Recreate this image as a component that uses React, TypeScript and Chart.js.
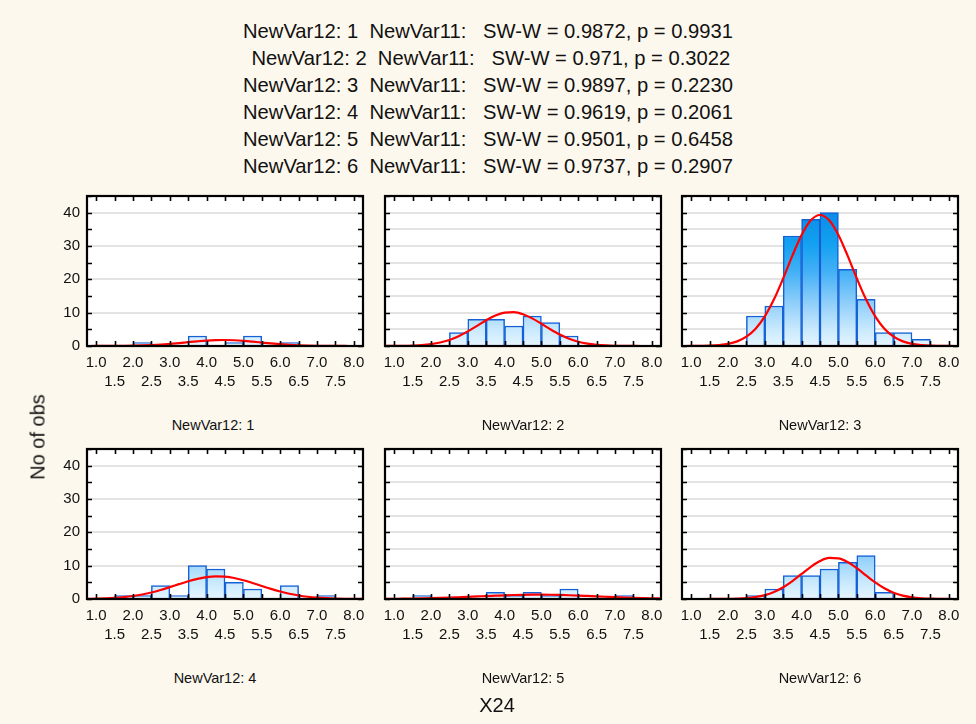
import React, { useEffect, useRef } from 'react';
import { Chart, registerables } from 'chart.js';

Chart.register(...registerables);

const FONT = 'Arial, "Liberation Sans", sans-serif';

// Histogram bins (width 0.5, from 1.0 to 8.0), given by their centres
const binCenters = [1.25, 1.75, 2.25, 2.75, 3.25, 3.75, 4.25, 4.75, 5.25, 5.75, 6.25, 6.75, 7.25, 7.75];

const counts1 = [0, 0, 1, 0, 0, 3, 0, 1, 3, 0, 1, 0, 0, 0];
const counts2 = [0, 0, 0, 4, 8, 8, 6, 9, 7, 3, 0, 0, 0, 0];
const counts3 = [0, 0, 0, 9, 12, 33, 38, 40, 23, 14, 4, 4, 2, 0];
const counts4 = [0, 1, 1, 4, 1, 10, 9, 5, 3, 0, 4, 0, 1, 0];
const counts5 = [0, 1, 0, 0, 0, 2, 1, 2, 1, 3, 0, 0, 1, 0];
const counts6 = [0, 0, 0, 1, 3, 7, 7, 9, 11, 13, 2, 0, 0, 0];

// Fitted normal curve, read at these x positions
const curveX = [0.75, 1, 1.25, 1.5, 1.75, 2, 2.25, 2.5, 2.75, 3, 3.25, 3.5, 3.75, 4, 4.25, 4.5, 4.75, 5, 5.25, 5.5, 5.75, 6, 6.25, 6.5, 6.75, 7, 7.25, 7.5, 7.75, 8, 8.25];

const curve1 = [0.0, 0.01, 0.01, 0.02, 0.05, 0.09, 0.16, 0.27, 0.42, 0.63, 0.88, 1.15, 1.41, 1.63, 1.76, 1.8, 1.72, 1.55, 1.31, 1.04, 0.77, 0.54, 0.36, 0.22, 0.13, 0.07, 0.04, 0.02, 0.01, 0.0, 0.0];
const curve2 = [0.01, 0.02, 0.05, 0.13, 0.27, 0.56, 1.05, 1.82, 2.94, 4.38, 6.05, 7.73, 9.15, 10.02, 10.16, 9.54, 8.29, 6.67, 4.97, 3.42, 2.18, 1.29, 0.71, 0.36, 0.17, 0.07, 0.03, 0.01, 0.0, 0.0, 0.0];
const curve3 = [0.0, 0.01, 0.04, 0.1, 0.27, 0.63, 1.39, 2.8, 5.2, 8.89, 14.0, 20.3, 27.1, 33.3, 37.7, 39.3, 37.7, 33.3, 27.1, 20.3, 14.0, 8.89, 5.2, 2.8, 1.39, 0.63, 0.27, 0.1, 0.04, 0.01, 0.0];
const curve4 = [0.05, 0.1, 0.19, 0.33, 0.56, 0.89, 1.35, 1.95, 2.7, 3.55, 4.45, 5.32, 6.05, 6.57, 6.79, 6.7, 6.29, 5.63, 4.81, 3.91, 3.03, 2.24, 1.57, 1.06, 0.68, 0.41, 0.24, 0.13, 0.07, 0.04, 0.02];
const curve5 = [0.04, 0.07, 0.1, 0.14, 0.19, 0.25, 0.33, 0.42, 0.53, 0.64, 0.76, 0.89, 1.0, 1.11, 1.2, 1.26, 1.29, 1.3, 1.27, 1.21, 1.13, 1.03, 0.91, 0.79, 0.67, 0.55, 0.44, 0.35, 0.27, 0.2, 0.15];
const curve6 = [0.0, 0.0, 0.0, 0.01, 0.02, 0.04, 0.12, 0.27, 0.59, 1.16, 2.11, 3.51, 5.37, 7.52, 9.66, 11.39, 12.31, 12.21, 11.1, 9.26, 7.08, 4.96, 3.2, 1.88, 1.02, 0.51, 0.23, 0.1, 0.04, 0.01, 0.0];

const allCounts = [counts1, counts2, counts3, counts4, counts5, counts6];
const allCurves = [curve1, curve2, curve3, curve4, curve5, curve6];

const groupLabels = ['NewVar12: 1', 'NewVar12: 2', 'NewVar12: 3', 'NewVar12: 4', 'NewVar12: 5', 'NewVar12: 6'];

const swLines = [
  'NewVar12: 1  NewVar11:   SW-W = 0.9872, p = 0.9931',
  ' NewVar12: 2  NewVar11:   SW-W = 0.971, p = 0.3022',
  'NewVar12: 3  NewVar11:   SW-W = 0.9897, p = 0.2230',
  'NewVar12: 4  NewVar11:   SW-W = 0.9619, p = 0.2061',
  'NewVar12: 5  NewVar11:   SW-W = 0.9501, p = 0.6458',
  'NewVar12: 6  NewVar11:   SW-W = 0.9737, p = 0.2907',
];

const xTicks = [1.0, 1.5, 2.0, 2.5, 3.0, 3.5, 4.0, 4.5, 5.0, 5.5, 6.0, 6.5, 7.0, 7.5, 8.0];
const xMin = 0.75;
const xMax = 8.25;
const yTicks = [0, 5, 10, 15, 20, 25, 30, 35, 40, 45];
const yLabelled = [0, 10, 20, 30, 40];
const yMax = 45;

const yAxisTitle = 'No of obs';
const xAxisTitle = 'X24';

const PLOT_W = 276;
const PLOT_H = 150;
const panelPos = [
  { left: 87, top: 196, titleX: 213 },
  { left: 385, top: 196, titleX: 523 },
  { left: 682, top: 196, titleX: 820 },
  { left: 87, top: 449, titleX: 215 },
  { left: 385, top: 449, titleX: 523 },
  { left: 682, top: 449, titleX: 820 },
];

const framePlugin = {
  id: 'statFrame',
  beforeDraw(chart: any) {
    const { ctx, chartArea: a } = chart;
    ctx.save();
    ctx.fillStyle = '#ffffff';
    ctx.fillRect(a.left, a.top, a.right - a.left, a.bottom - a.top);
    ctx.restore();
  },
  afterDatasetsDraw(chart: any) {
    const { ctx, chartArea: a, scales } = chart;
    const tl = 5;
    ctx.save();
    ctx.strokeStyle = '#000000';
    ctx.lineWidth = 1.6;
    ctx.beginPath();
    for (const v of xTicks) {
      const px = Math.round(scales.x.getPixelForValue(v)) + 0.5;
      ctx.moveTo(px, a.top);
      ctx.lineTo(px, a.top + tl);
      ctx.moveTo(px, a.bottom);
      ctx.lineTo(px, a.bottom - tl);
    }
    for (const v of yTicks) {
      const py = Math.round(scales.y.getPixelForValue(v)) + 0.5;
      ctx.moveTo(a.left, py);
      ctx.lineTo(a.left + tl, py);
      ctx.moveTo(a.right, py);
      ctx.lineTo(a.right - tl, py);
    }
    ctx.stroke();
    ctx.lineWidth = 2.2;
    ctx.strokeRect(a.left, a.top, a.right - a.left, a.bottom - a.top);
    ctx.restore();
  },
};

function barGradient(ctx: any) {
  const chart = ctx.chart;
  const area = chart.chartArea;
  if (!area) return '#bfe4fc';
  const y = chart.scales.y;
  const g = chart.ctx.createLinearGradient(0, y.getPixelForValue(0), 0, y.getPixelForValue(yMax));
  g.addColorStop(0, '#e6f5ff');
  g.addColorStop(0.11, '#c9e9fd');
  g.addColorStop(0.29, '#8ecefa');
  g.addColorStop(0.49, '#45b1f6');
  g.addColorStop(0.67, '#14a2f1');
  g.addColorStop(0.89, '#0a8ce8');
  g.addColorStop(1, '#0a7fe0');
  return g;
}

function Panel({ idx }: { idx: number }) {
  const ref = useRef<HTMLCanvasElement>(null);
  const pos = panelPos[idx];
  const showY = idx % 3 === 0;
  const padL = showY ? 44 : 14;
  const padT = 16;
  const padR = 14;
  const padB = 50;
  const W = padL + PLOT_W + padR;
  const H = padT + PLOT_H + padB;

  useEffect(() => {
    const counts = allCounts[idx];
    const curve = allCurves[idx];
    const chart = new Chart(ref.current as HTMLCanvasElement, {
      type: 'bar',
      data: {
        datasets: [
          {
            type: 'line',
            data: curveX.map((x, i) => ({ x, y: curve[i] })),
            borderColor: '#ff0000',
            borderWidth: 2.2,
            pointRadius: 0,
            cubicInterpolationMode: 'monotone',
            order: 0,
          } as any,
          {
            type: 'bar',
            data: binCenters.map((x, i) => ({ x, y: counts[i] > 0 ? counts[i] : null })),
            backgroundColor: barGradient,
            borderColor: '#1461d6',
            borderWidth: 1.5,
            borderSkipped: 'start',
            barPercentage: 1,
            categoryPercentage: 1,
            order: 1,
          } as any,
        ],
      },
      options: {
        responsive: false,
        animation: false,
        devicePixelRatio: 1,
        layout: { padding: { top: padT, right: padR, left: 0, bottom: 0 } },
        plugins: { legend: { display: false }, tooltip: { enabled: false } },
        scales: {
          x: {
            type: 'linear',
            min: xMin,
            max: xMax,
            offset: false,
            grid: { display: false, drawTicks: false },
            border: { display: false },
            afterBuildTicks: (s: any) => {
              s.ticks = xTicks.map((v) => ({ value: v }));
            },
            afterFit: (s: any) => {
              s.height = padB;
            },
            ticks: {
              autoSkip: false,
              maxRotation: 0,
              minRotation: 0,
              padding: 7,
              color: '#111111',
              font: { family: FONT, size: 15, lineHeight: 1.3 },
              callback: (v: any) => {
                const n = Number(v);
                const s = n.toFixed(1);
                return Math.abs(n - Math.round(n)) < 1e-6 ? [s] : ['', s];
              },
            },
          },
          y: {
            type: 'linear',
            min: 0,
            max: yMax,
            grid: { color: '#e3e3e3', lineWidth: 2, drawTicks: false },
            border: { display: false },
            afterBuildTicks: (s: any) => {
              s.ticks = yTicks.map((v) => ({ value: v }));
            },
            afterFit: (s: any) => {
              s.width = padL;
            },
            ticks: {
              display: showY,
              padding: 7,
              color: '#111111',
              font: { family: FONT, size: 15 },
              callback: (v: any) => (yLabelled.includes(Number(v)) ? String(v) : ''),
            },
          },
        },
      } as any,
      plugins: [framePlugin],
    });
    return () => chart.destroy();
  }, []);

  return (
    <>
      <canvas
        ref={ref}
        width={W}
        height={H}
        style={{ position: 'absolute', left: pos.left - padL, top: pos.top - padT, width: W, height: H }}
      />
      <div
        style={{
          position: 'absolute',
          left: pos.titleX,
          top: pos.top + PLOT_H + 79,
          fontSize: 14.5,
          whiteSpace: 'nowrap',
          transform: 'translate(-50%, -50%)',
        }}
      >
        {groupLabels[idx]}
      </div>
    </>
  );
}

export default function App() {
  return (
    <div
      style={{
        position: 'absolute',
        left: 0,
        top: 0,
        width: 976,
        height: 724,
        background: '#fdf8ed',
        fontFamily: FONT,
        color: '#111111',
        overflow: 'hidden',
      }}
    >
      {swLines.map((t, i) => (
        <div
          key={i}
          style={{
            position: 'absolute',
            left: 0,
            top: 17.5 + i * 27,
            width: 976,
            height: 27,
            lineHeight: '27px',
            fontSize: 20.2,
            textAlign: 'center',
            whiteSpace: 'pre',
          }}
        >
          {t}
        </div>
      ))}
      {[0, 1, 2, 3, 4, 5].map((i) => (
        <Panel key={i} idx={i} />
      ))}
      <div
        style={{
          position: 'absolute',
          left: 38,
          top: 437,
          fontSize: 20,
          whiteSpace: 'nowrap',
          transform: 'translate(-50%, -50%) rotate(-90deg)',
        }}
      >
        {yAxisTitle}
      </div>
      <div
        style={{
          position: 'absolute',
          left: 497,
          top: 705,
          fontSize: 20,
          whiteSpace: 'nowrap',
          transform: 'translate(-50%, -50%)',
        }}
      >
        {xAxisTitle}
      </div>
    </div>
  );
}
